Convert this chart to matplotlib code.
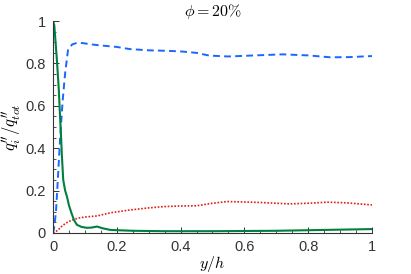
import matplotlib
matplotlib.use('Agg')
import matplotlib.pyplot as plt
from matplotlib.ticker import MultipleLocator, FormatStrFormatter

# wall-normal position
blue_x = [0, 0.003, 0.009, 0.015, 0.022, 0.03, 0.038, 0.047, 0.06, 0.075, 0.094, 0.12, 0.15,
          0.2, 0.24, 0.3, 0.35, 0.4, 0.45, 0.49, 0.55, 0.6, 0.65, 0.72, 0.8, 0.87, 0.93, 1.0]
blue_y = [0, 0.02, 0.094, 0.25, 0.44, 0.62, 0.755, 0.863, 0.89, 0.897, 0.896, 0.89, 0.885,
          0.878, 0.868, 0.862, 0.86, 0.857, 0.85, 0.837, 0.833, 0.836, 0.839, 0.843, 0.838, 0.829, 0.83, 0.835]

green_x = [0, 0.004, 0.012, 0.018, 0.022, 0.025, 0.028, 0.032, 0.038, 0.044, 0.05, 0.058, 0.066,
           0.075, 0.09, 0.106, 0.12, 0.138, 0.155, 0.18, 0.25, 0.35, 0.5, 0.7, 0.85, 1.0]
green_y = [1.0, 0.98, 0.82, 0.68, 0.55, 0.46, 0.36, 0.25, 0.2, 0.17, 0.13, 0.093, 0.06,
           0.038, 0.028, 0.024, 0.025, 0.03, 0.022, 0.014, 0.01, 0.008, 0.008, 0.01, 0.014, 0.018]

red_x = [0, 0.008, 0.016, 0.03, 0.045, 0.06, 0.08, 0.1, 0.138, 0.18, 0.24, 0.3, 0.345, 0.4,
         0.45, 0.5, 0.545, 0.6, 0.66, 0.74, 0.8, 0.86, 0.92, 1.0]
red_y = [0, 0.005, 0.014, 0.035, 0.05, 0.061, 0.07, 0.075, 0.08, 0.095, 0.108, 0.118, 0.124, 0.127,
         0.128, 0.14, 0.148, 0.146, 0.143, 0.137, 0.14, 0.145, 0.142, 0.132]

plt.rcParams['font.family'] = ['Liberation Sans', 'DejaVu Sans']
plt.rcParams['mathtext.fontset'] = 'cm'

fig = plt.figure(figsize=(4.11, 2.74), dpi=100)
ax = fig.add_axes([0.129, 0.15, 0.776, 0.773])

ax.plot(blue_x, blue_y, color='#1a66ff', lw=1.4, ls=(0, (3.5, 2.2)))
ax.plot(red_x, red_y, color='#e0201a', lw=1.2, ls=(0, (1, 1)))
ax.plot(green_x, green_y, color='#008040', lw=1.5)

ax.set_xlim(0, 1)
ax.set_ylim(0, 1)
ax.xaxis.set_major_locator(MultipleLocator(0.2))
ax.yaxis.set_major_locator(MultipleLocator(0.2))
ax.xaxis.set_minor_locator(MultipleLocator(0.05))
ax.yaxis.set_minor_locator(MultipleLocator(0.05))
ax.xaxis.set_major_formatter(FormatStrFormatter('%g'))
ax.yaxis.set_major_formatter(FormatStrFormatter('%g'))

for s in ['top', 'right']:
    ax.spines[s].set_visible(False)
for s in ['left', 'bottom']:
    ax.spines[s].set_color('#333333')
    ax.spines[s].set_linewidth(0.8)

ax.tick_params(which='both', direction='in', colors='#333333', labelsize=10.5)
ax.tick_params(which='major', length=4, width=0.7, pad=5)
ax.tick_params(which='minor', length=2, width=0.6)

ax.set_xlabel(r'$y/h$', fontsize=11.5, labelpad=0)
ax.set_ylabel(r"$q_i''/q_{tot}''$", fontsize=12, labelpad=1)
ax.set_title(r'$\phi = 20\%$', fontsize=11.5, pad=4)

fig.savefig('out.png', dpi=100)
